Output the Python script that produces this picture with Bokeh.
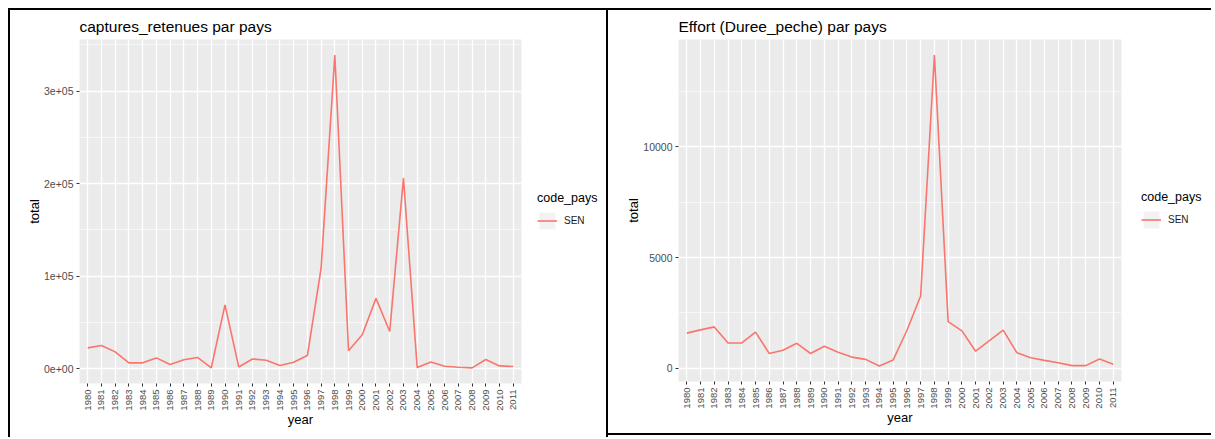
import math
from bokeh.plotting import figure
from bokeh.layouts import row
from bokeh.models import (FactorRange, Range1d, FixedTicker, Legend, LegendItem,
                          ColumnDataSource)
from bokeh.embed import file_html
from bokeh.resources import INLINE

# ---------------- data ----------------
years = ["1980", "1981", "1982", "1983", "1984", "1985", "1986", "1987",
         "1988", "1989", "1990", "1991", "1992", "1993", "1994", "1995",
         "1996", "1997", "1998", "1999", "2000", "2001", "2002", "2003",
         "2004", "2005", "2006", "2007", "2008", "2009", "2010", "2011"]

captures = [22300, 24800, 18000, 6100, 6100, 11500, 4300, 9400,
            12000, 800, 68800, 1700, 10300, 8900, 3200, 6800,
            14000, 108200, 339000, 19300, 36500, 75900, 40100, 206000,
            1100, 7100, 2500, 1400, 700, 9700, 2800, 2100]

effort = [1587, 1733, 1867, 1142, 1142, 1630, 667, 815,
          1126, 667, 993, 726, 504, 400, 104, 370,
          1704, 3262, 14140, 2104, 1689, 770, 1244, 1719,
          696, 474, 356, 252, 119, 119, 415, 178]

left_yticks = [0, 100000, 200000, 300000]
left_ylabels = ["0e+00", "1e+05", "2e+05", "3e+05"]
left_yminor = [50000, 150000, 250000, 350000]

right_yticks = [0, 5000, 10000]
right_ylabels = ["0", "5000", "10000"]
right_yminor = [2500, 7500, 12500]

titles = ["captures_retenues par pays", "Effort (Duree_peche) par pays"]
x_title = "year"
y_title = "total"
legend_title = "code_pays"
series_name = "SEN"

FONT = "Liberation Sans"
LINE = "#F8766D"
TOP = 27
FRAME_H = 346
BORDER = "2px solid black"


def panel(title, values, ticks, labels, minor, H, left, frame_w, styles):
    right = 5
    W = left + frame_w + right
    lo, hi = min(values), max(values)
    span = hi - lo
    p = figure(width=W, height=H,
               x_range=FactorRange(factors=years, range_padding=0.1,
                                   range_padding_units="absolute"),
               y_range=Range1d(lo - 0.05 * span, hi + 0.05 * span),
               output_backend="svg", toolbar_location=None, title=title,
               min_border_left=left, min_border_right=right,
               min_border_top=TOP, min_border_bottom=H - TOP - FRAME_H,
               styles=styles)
    p.background_fill_color = "#EBEBEB"
    p.border_fill_color = "white"
    p.outline_line_color = None

    p.title.text_font = FONT
    p.title.text_font_size = "15.5px"
    p.title.text_font_style = "normal"
    p.title.text_color = "black"
    p.title.align = "left"
    p.title.standoff = 10
    p.title.offset = 0

    p.xgrid.grid_line_color = "white"
    p.xgrid.grid_line_width = 1.3
    p.ygrid.grid_line_color = "white"
    p.ygrid.grid_line_width = 1.3
    p.ygrid.minor_grid_line_color = "white"
    p.ygrid.minor_grid_line_width = 0.6

    xa = p.xaxis[0]
    xa.axis_label = x_title
    xa.major_label_orientation = math.pi / 2
    xa.major_label_text_font = FONT
    xa.major_label_text_font_size = "9.5px"
    xa.major_label_text_color = "#4D4D4D"
    xa.major_label_standoff = 3
    xa.major_tick_in = 0
    xa.major_tick_out = 3
    xa.major_tick_line_color = "#333333"
    xa.minor_tick_line_color = None
    xa.axis_line_color = None
    xa.axis_label_text_font = FONT
    xa.axis_label_text_font_size = "13px"
    xa.axis_label_text_font_style = "normal"
    xa.axis_label_text_color = "black"
    xa.axis_label_standoff = -2

    ya = p.yaxis[0]
    ya.ticker = FixedTicker(ticks=ticks, minor_ticks=minor)
    ya.major_label_overrides = {t: s for t, s in zip(ticks, labels)}
    ya.axis_label = y_title
    ya.major_label_text_font = FONT
    ya.major_label_text_font_size = "10.5px"
    ya.major_label_text_color = "#4D4D4D"
    ya.major_label_standoff = 2
    ya.major_tick_in = 0
    ya.major_tick_out = 3
    ya.major_tick_line_color = "#333333"
    ya.minor_tick_line_color = None
    ya.axis_line_color = None
    ya.axis_label_text_font = FONT
    ya.axis_label_text_font_size = "13px"
    ya.axis_label_text_font_style = "normal"
    ya.axis_label_text_color = "black"
    ya.axis_label_standoff = -1

    src = ColumnDataSource(dict(year=years, total=values))
    p.line(x="year", y="total", source=src, line_color=LINE, line_width=1.6)
    return p


def legend_panel(W, H, dx, styles):
    # separate panel holding the ggplot-style legend (key box + line)
    lf = figure(width=W, height=H, x_range=Range1d(0, 1), y_range=Range1d(0, 1),
                output_backend="svg", toolbar_location=None,
                x_axis_location=None, y_axis_location=None,
                min_border_left=0, min_border_right=0,
                min_border_top=TOP, min_border_bottom=H - TOP - FRAME_H,
                styles=styles)
    lf.grid.visible = False
    lf.outline_line_color = None
    lf.background_fill_color = "white"
    lf.border_fill_color = "white"
    # key renderers kept outside the visible range; only their legend glyphs show
    bg = lf.rect(x="x", y="y", width=1, height=1,
                 source=ColumnDataSource(dict(x=[5], y=[5])),
                 fill_color="#F2F2F2", line_color=None)
    ln = lf.line(x="x", y="y", source=ColumnDataSource(dict(x=[5, 6], y=[5, 5])),
                 line_color=LINE, line_width=1.6)
    legend = Legend(items=[LegendItem(label=series_name, renderers=[bg, ln])],
                    title=legend_title, location="center_left",
                    margin=dx, padding=0, spacing=0,
                    glyph_width=20, glyph_height=21, label_standoff=7,
                    border_line_color=None, background_fill_alpha=0)
    legend.title_text_font = FONT
    legend.title_text_font_size = "12.5px"
    legend.title_text_font_style = "normal"
    legend.title_text_color = "black"
    legend.title_standoff = 5
    legend.label_text_font = FONT
    legend.label_text_font_size = "10px"
    legend.label_text_color = "#1A1A1A"
    lf.add_layout(legend)
    return lf


p1 = panel(titles[0], captures, left_yticks, left_ylabels, left_yminor,
           429, 69, 442,
           {"margin-left": "8px", "margin-top": "8px",
            "border-left": BORDER, "border-top": BORDER})
l1 = legend_panel(84, 429, 13,
                  {"margin-top": "8px", "border-top": BORDER,
                   "border-right": BORDER})
p2 = panel(titles[1], effort, right_yticks, right_ylabels, right_yminor,
           427, 70, 443,
           {"margin-top": "8px", "border-top": BORDER, "border-bottom": BORDER})
l2 = legend_panel(85, 427, 15,
                  {"margin-top": "8px", "border-top": BORDER,
                   "border-bottom": BORDER})

layout = row(p1, l1, p2, l2)
open("out.html", "w").write(file_html(layout, INLINE))
